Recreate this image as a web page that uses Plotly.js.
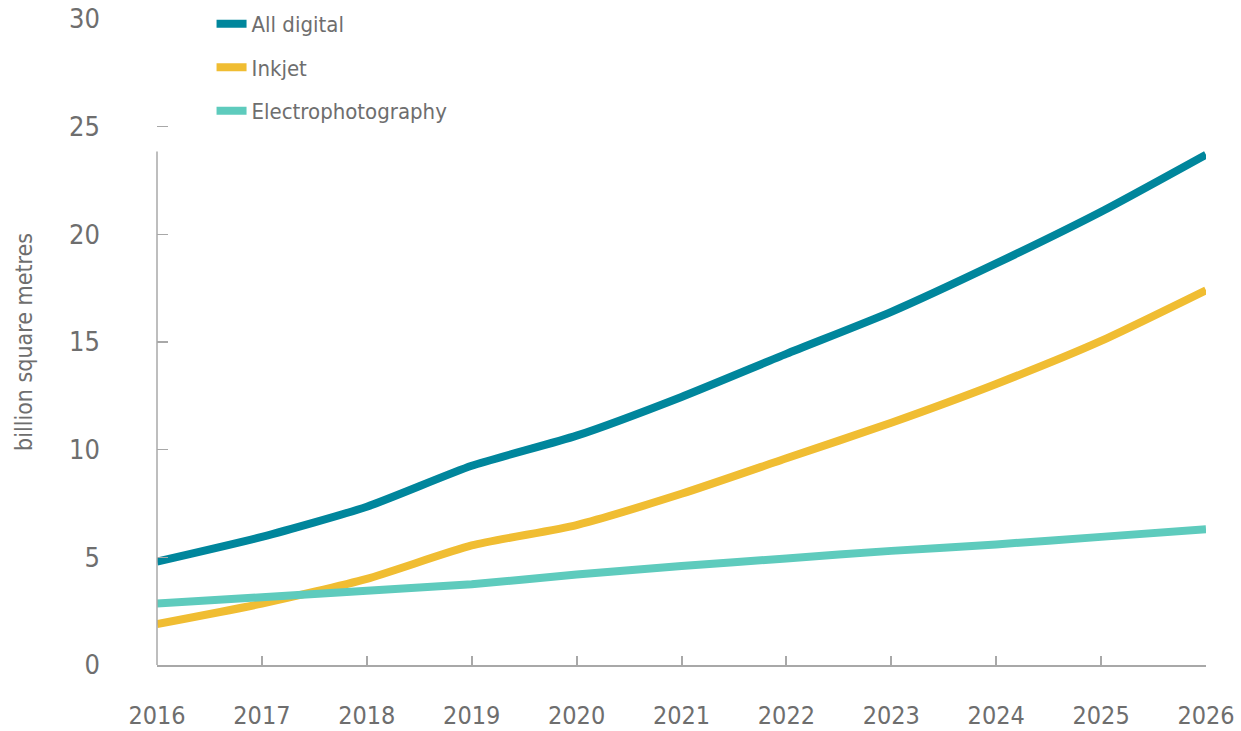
<!DOCTYPE html>
<html>
<head>
<meta charset="utf-8">
<script src="https://cdn.plot.ly/plotly-3.0.1.min.js"></script>
<style>
  html, body { margin: 0; padding: 0; background: #fff; }
  #chart { width: 1241px; height: 731px; }
</style>
</head>
<body>
<div id="chart"></div>
<script>
const years = [2016, 2017, 2018, 2019, 2020, 2021, 2022, 2023, 2024, 2025, 2026];
const allDigital = [4.8, 5.95, 7.35, 9.25, 10.65, 12.45, 14.45, 16.4, 18.65, 21.05, 23.7];
const inkjet     = [1.9, 2.85, 4.0, 5.55, 6.5, 7.95, 9.6, 11.25, 13.05, 15.05, 17.4];
const electro    = [2.85, 3.15, 3.45, 3.75, 4.2, 4.6, 4.95, 5.3, 5.6, 5.95, 6.3];
const names  = ['All digital', 'Inkjet', 'Electrophotography'];
const colors = ['#00869c', '#f0bd32', '#5ecbbd'];
const yTicks = [0, 5, 10, 15, 20, 25, 30];

const FONT = '"Liberation Sans Narrow", "DejaVu Sans Condensed", "Roboto", sans-serif';
const GREY = '#6e6e6e';

const series = [allDigital, inkjet, electro];
const traces = series.map((vals, i) => ({
    x: years, y: vals,
    type: 'scatter', mode: 'lines',
    name: names[i], legendgroup: 'g' + i,
    line: { color: colors[i], width: 8, shape: 'spline', smoothing: 0.6 },
    hoverinfo: 'x+y'
}));

const layout = {
    width: 1241, height: 731,
    margin: { l: 157, r: 35, t: 19, b: 66, autoexpand: false },
    paper_bgcolor: '#fff', plot_bgcolor: '#fff',
    font: { family: FONT, color: GREY, size: 25 },
    showlegend: true,
    legend: {
        x: 0.052, y: 1.025, xanchor: 'left', yanchor: 'top',
        font: { family: FONT, size: 22, color: GREY },
        traceorder: 'grouped', tracegroupgap: 12,
        bgcolor: 'rgba(0,0,0,0)'
    },
    xaxis: {
        range: [2016, 2026],
        tickvals: years,
        ticks: 'inside', ticklen: 9, tickwidth: 2, tickcolor: '#a8a8a8',
        showline: true, linecolor: '#a8a8a8', linewidth: 2,
        showgrid: false, zeroline: false,
        ticklabelstandoff: 27,
        tickfont: { family: FONT, size: 25, color: GREY }
    },
    yaxis: {
        range: [0, 30],
        tickvals: yTicks,
        ticks: 'inside', ticklen: 11, tickwidth: 1.5, tickcolor: '#a8a8a8',
        showline: false, showgrid: false, zeroline: false,
        ticklabelstandoff: 56,
        tickfont: { family: FONT, size: 27, color: GREY },
        title: { text: 'billion square metres', font: { family: FONT, size: 23, color: GREY }, standoff: 30 }
    },
    shapes: [{
        type: 'line', xref: 'paper', yref: 'y',
        x0: 0, x1: 0, y0: 0, y1: 23.85,
        line: { color: '#a8a8a8', width: 1.5 }
    }]
};

Plotly.newPlot('chart', traces, layout, { displayModeBar: false, staticPlot: true });
</script>
</body>
</html>
